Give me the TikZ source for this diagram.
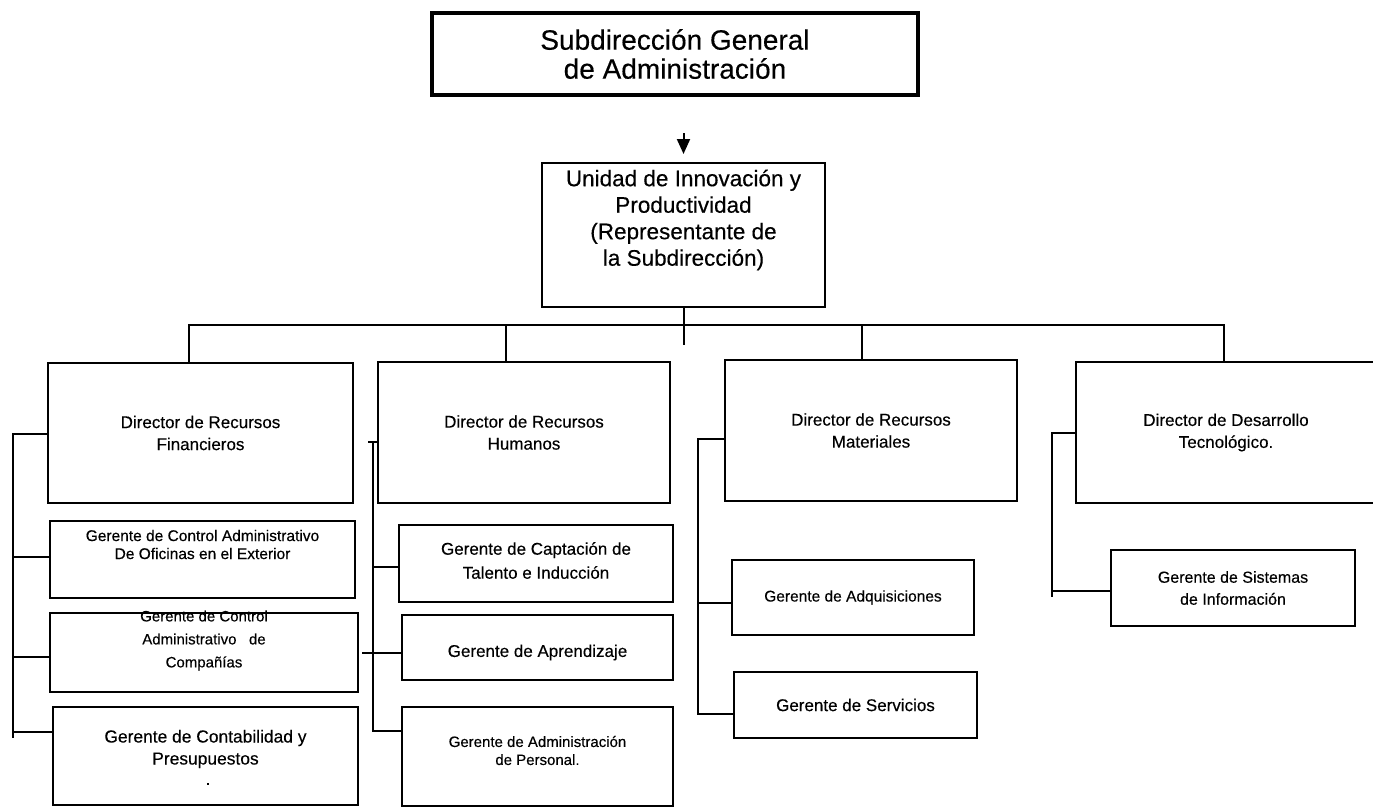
\documentclass[tikz,border=0pt]{standalone}
\usepackage{fontspec}
\setmainfont{Liberation Sans}[FakeBold=0.35]
\usetikzlibrary{arrows.meta}
\begin{document}
\begin{tikzpicture}[x=1pt,y=-1pt,
  box/.style={draw,line width=2pt,rectangle,inner sep=0pt,align=center},
  ln/.style={line width=2pt,line join=miter},
  txt/.style={align=center,inner sep=0pt},
  dirfont/.style={font=\fontsize{17}{22}\selectfont},
  arr/.style={line width=2pt,-{Triangle[width=13pt,length=15pt]}}]
\useasboundingbox (0,0) rectangle (1373,807);

% top of the chart
\node[box,line width=4.5pt,minimum width=486pt,minimum height=82pt,
      font=\fontsize{28}{29}\selectfont] (top) at (675,54)
      {Subdirección General\\de Administración};
\node[box,minimum width=283pt,minimum height=144pt] (unit) at (683.5,235) {};
\node[txt,font=\fontsize{22.5}{26.5}\selectfont] (unitT) at ([yshift=15pt]unit.center)
      {Unidad de Innovación y\\Productividad\\(Representante de\\la Subdirección)};
\draw[arr,shorten <=36pt,shorten >=8pt] (top.south -| unit.north) -- (unit.north);

% directors
\node[box,dirfont,minimum width=305pt,minimum height=140pt] (d1) at (200.5,433)
      {Director de Recursos\\Financieros};
\node[box,dirfont,minimum width=292pt,minimum height=141pt] (d2) at (524,432.5)
      {Director de Recursos\\Humanos};
\node[box,dirfont,minimum width=292pt,minimum height=141pt] (d3) at (871,430.5)
      {Director de Recursos\\Materiales};
\node[box,dirfont,minimum width=300pt,minimum height=141pt] (d4) at (1226,432.5)
      {Director de Desarrollo\\Tecnológico.};

% managers, first column
\node[box,minimum width=305pt,minimum height=77pt] (g1) at (202.5,559.5) {};
\node[txt,font=\fontsize{15.5}{18}\selectfont] (g1T) at ([yshift=15pt]g1.center)
      {Gerente de Control Administrativo\\De Oficinas en el Exterior};
\node[box,minimum width=308pt,minimum height=79pt] (g2) at (204,652.5) {};
\node[txt,font=\fontsize{15}{23}\selectfont] (g2T) at ([yshift=12pt]g2.center)
      {Gerente de Control\\Administrativo \ \ de\\Compañías};
\node[box,minimum width=305pt,minimum height=98pt] (g3) at (205.5,756) {};
\node[txt,font=\fontsize{17.4}{22}\selectfont] (g3T) at ([yshift=7pt]g3.center)
      {Gerente de Contabilidad y\\Presupuestos};
\node[txt,font=\fontsize{17}{20}\selectfont] (g3dot) at (208,784) {.};

% managers, second column
\node[box,minimum width=274pt,minimum height=77pt] (g4) at (536,563.5) {};
\node[txt,font=\fontsize{17}{24}\selectfont] (g4T) at ([yshift=3pt]g4.center)
      {Gerente de Captación de\\Talento e Inducción};
\node[box,minimum width=271pt,minimum height=65pt] (g5) at (537.5,647.5) {};
\node[txt,font=\fontsize{17}{20}\selectfont] (g5T) at ([yshift=-5pt]g5.center)
      {Gerente de Aprendizaje};
\node[box,minimum width=271pt,minimum height=99pt] (g6) at (537.5,756.5) {};
\node[txt,font=\fontsize{15}{18}\selectfont] (g6T) at ([yshift=6pt]g6.center)
      {Gerente de Administración\\de Personal.};

% managers, third and fourth columns
\node[box,font=\fontsize{15.5}{18}\selectfont,minimum width=242pt,minimum height=75pt] (g7)
      at (853,597.5) {Gerente de Adquisiciones};
\node[box,font=\fontsize{17}{20}\selectfont,minimum width=243pt,minimum height=66pt] (g8)
      at (855.5,705) {Gerente de Servicios};
\node[box,font=\fontsize{16}{22}\selectfont,minimum width=244pt,minimum height=76pt] (g9)
      at (1233,588) {Gerente de Sistemas\\de Información};

% bus under the unit
\coordinate (bL) at (189,325);
\coordinate (b2) at (506,325);
\coordinate (b3) at (862,325);
\coordinate (bR) at (1224,325);
\draw[ln] (bL |- d1.north) -- (bL) -- (bR) -- (bR |- d4.north);
\draw[ln] (b2) -- (b2 |- d2.north);
\draw[ln] (b3) -- (b3 |- d3.north);
\draw[ln] (unit.south) -- ++(0,37);

% first column spine
\coordinate (s1a) at (13,434);
\coordinate (s1b) at (13,738);
\coordinate (k11) at (13,557);
\coordinate (k12) at (13,657);
\coordinate (k13) at (13,732);
\draw[ln] (d1.west |- s1a) -- (s1a) -- (s1b);
\draw[ln] (k11) -- (k11 -| g1.west);
\draw[ln] (k12) -- (k12 -| g2.west);
\draw[ln] (k13) -- (k13 -| g3.west);

% second column spine
\coordinate (s2a) at (373,442);
\coordinate (s2t) at (368,442);
\coordinate (k21) at (373,567);
\coordinate (k22) at (362,653);
\coordinate (k23) at (373,731);
\draw[ln] (s2t) -- (s2t -| d2.west);
\draw[ln] (s2a) -- (k23) -- (k23 -| g6.west);
\draw[ln] (k21) -- (k21 -| g4.west);
\draw[ln] (k22) -- (k22 -| g5.west);

% third column spine
\coordinate (s3a) at (698,439);
\coordinate (k31) at (698,603);
\coordinate (k32) at (698,714);
\draw[ln] (d3.west |- s3a) -- (s3a) -- (k32) -- (k32 -| g8.west);
\draw[ln] (k31) -- (k31 -| g7.west);

% fourth column spine
\coordinate (s4a) at (1052,433);
\coordinate (k41) at (1052,591);
\coordinate (s4b) at (1052,597);
\draw[ln] (d4.west |- s4a) -- (s4a) -- (s4b);
\draw[ln] (k41) -- (k41 -| g9.west);
\end{tikzpicture}
\end{document}
